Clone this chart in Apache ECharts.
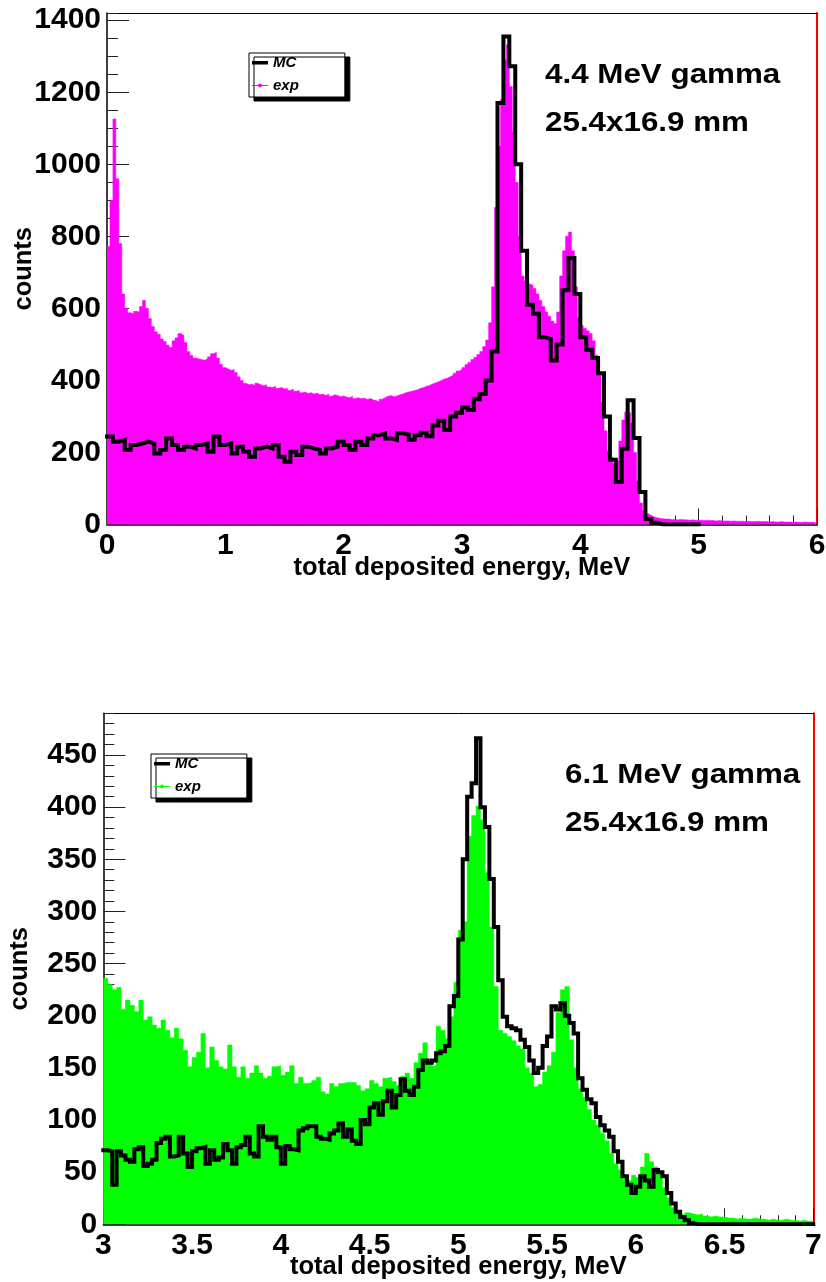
<!DOCTYPE html>
<html>
<head>
<meta charset="utf-8">
<script src="https://cdn.jsdelivr.net/npm/echarts@6/dist/echarts.min.js"></script>
<style>
  html, body { margin: 0; padding: 0; background: #fff; }
  #chart { width: 826px; height: 1282px; }
</style>
</head>
<body>
<div id="chart"></div>
<script>
const FONT = "'Liberation Sans', Arial, Helvetica, sans-serif";

// ---- 4.4 MeV gamma panel ----
// exp: 0.025 MeV bins starting at 0
const topExpStart = 0;
const topExpWidth = 0.025;
const topExp = [
  772, 900, 1126, 960, 780, 640, 600, 588, 585, 592,
  590, 605, 622, 600, 572, 550, 535, 528, 515, 508,
  498, 492, 510, 518, 530, 525, 505, 480, 470, 462,
  460, 458, 456, 460, 466, 474, 478, 462, 445, 436,
  432, 428, 430, 422, 410, 400, 392, 388, 390, 386,
  392, 388, 385, 388, 382, 380, 384, 378, 380, 376,
  378, 372, 376, 370, 372, 366, 368, 364, 366, 362,
  365, 360, 362, 358, 362, 356, 360, 358, 355, 357,
  354, 352, 356, 350, 352, 349, 351, 347, 350, 346,
  344, 340, 348, 352, 356, 358, 355, 357, 360, 362,
  366, 368, 370, 372, 374, 378, 380, 384, 386, 390,
  393, 396, 400, 404, 406, 410, 414, 420, 426, 430,
  436, 444, 450, 458, 464, 472, 480, 494, 512, 560,
  660, 880, 1050, 1180, 1290, 1332, 1216, 1090, 950, 800,
  690, 676, 668, 664, 655, 640, 622, 605, 590, 578,
  565, 558, 590, 690, 760, 800, 812, 760, 660, 575,
  552, 545, 538, 530, 510, 470, 420, 340, 260, 205,
  186, 170, 178, 232, 290, 312, 310, 282, 200, 120,
  60, 38, 30, 25, 21, 19, 17, 16, 15, 15,
  14, 14, 13, 14, 13, 13, 12, 13, 12, 12,
  12, 11, 12, 11, 11, 10, 11, 10, 10, 10,
  9, 10, 9, 9, 9, 8, 9, 8, 8, 9,
  8, 8, 8, 7, 8, 7, 7, 8, 7, 7,
  7, 6, 7, 6, 6, 7, 6, 6, 6, 5
];
// MC: 0.05 MeV bins from 0 to 5
const topMcStart = 0;
const topMcWidth = 0.05;
const topMc = [
  244, 230, 235, 207, 221, 225, 230, 225, 197, 207,
  239, 221, 207, 216, 211, 221, 225, 202, 244, 221,
  225, 197, 216, 202, 188, 211, 216, 211, 221, 188,
  174, 202, 193, 216, 211, 207, 197, 211, 216, 230,
  221, 207, 230, 221, 239, 248, 253, 239, 235, 253,
  250, 235, 248, 255, 245, 275, 288, 262, 300, 310,
  325, 318, 348, 362, 400, 480, 1170, 1355, 1272, 1000,
  760, 610, 585, 520, 515, 455, 500, 650, 740, 640,
  520, 485, 462, 420, 300, 180, 118, 210, 345, 240,
  90, 15, 5, 0, 0, 0, 0, 0, 0, 0
];

// ---- 6.1 MeV gamma panel ----
// exp and MC: 0.025 MeV bins from 3 to 7
const botStart = 3;
const botWidth = 0.025;
const botExp = [
  236, 230, 225, 227, 206, 215, 210, 204, 215, 196,
  199, 191, 188, 196, 186, 179, 188, 178, 167, 151,
  160, 165, 183, 150, 170, 157, 151, 149, 172, 151,
  141, 151, 140, 145, 152, 145, 140, 142, 151, 152,
  143, 146, 152, 135, 141, 135, 136, 138, 141, 127,
  125, 135, 132, 135, 136, 136, 136, 133, 128, 130,
  138, 135, 132, 140, 141, 137, 133, 142, 145, 140,
  155, 164, 174, 158, 152, 190, 186, 178, 199, 232,
  282, 290, 372, 392, 401, 388, 337, 285, 228, 186,
  183, 180, 176, 171, 168, 150, 145, 132, 134, 146,
  152, 165, 203, 225, 228, 177, 150, 130, 122, 110,
  100, 95, 87, 80, 68, 58, 52, 44, 42, 47,
  45, 55, 68, 60, 55, 48, 35, 25, 16, 10,
  9, 11, 10, 9, 10, 8, 7, 8, 7, 7,
  6, 6, 5, 6, 5, 5, 6, 5, 5, 4,
  5, 4, 4, 5, 4, 4, 3, 4, 3, 3
];
const botMc = [
  71, 70, 38, 70, 66, 62, 60, 72, 74, 56,
  58, 62, 78, 82, 84, 65, 66, 84, 68, 55,
  70, 73, 74, 58, 71, 62, 64, 77, 71, 58,
  74, 76, 84, 68, 65, 94, 84, 81, 84, 74,
  58, 75, 72, 71, 90, 92, 94, 94, 84, 82,
  81, 87, 90, 97, 84, 91, 80, 77, 100, 96,
  112, 116, 105, 118, 128, 112, 124, 139, 128, 124,
  132, 148, 157, 155, 157, 164, 166, 171, 209, 219,
  273, 350, 410, 423, 466, 400, 381, 331, 285, 234,
  199, 190, 188, 186, 177, 170, 157, 145, 150, 171,
  180, 209, 206, 212, 200, 193, 183, 140, 129, 120,
  116, 103, 95, 90, 84, 70, 60, 46, 38, 30,
  36, 46, 42, 36, 52, 50, 46, 30, 20, 12,
  7, 4, 1, 0, 0, 0, 0, 0, 0, 0,
  0, 0, 0, 0, 0, 0, 0, 0, 0, 0,
  0, 0, 0, 0, 0, 0, 0, 0, 0, 0
];

// bin contents -> step points at bin edges (plus closing edge)
function histPoints(start, width, counts) {
  const pts = counts.map((c, i) => [start + i * width, c]);
  pts.push([start + counts.length * width, counts[counts.length - 1]]);
  return pts;
}

const MC_ICON = 'path://M0,0L16,0L16,0.01ZM0,14L16,14L16,13.99ZM0,5.5L16,5.5L16,9L0,9Z';
const EXP_ICON = 'path://M0,0L16,0L16,0.01ZM0,14L16,14L16,13.99ZM0,6.6L16,6.6L16,7.6L0,7.6Z' +
  'M10,7.1A2,2 0 1,1 6,7.1A2,2 0 1,1 10,7.1Z';

const labelStyle = { color: '#000', fontFamily: FONT, fontWeight: 'bold', fontSize: 30 };
const titleStyle = { color: '#000', fontFamily: FONT, fontWeight: 'bold', fontSize: 25.5 };
const tickLine = { color: '#222', width: 1 };
const plain = v => String(v);

function xMain(grid, min, max, interval) {
  return {
    type: 'value', gridIndex: grid, min, max, interval,
    axisLine: { onZero: false, lineStyle: { color: '#000', width: 1.5 } },
    axisTick: { inside: true, length: 16, lineStyle: tickLine },
    minorTick: { show: true, splitNumber: 5, length: 9, lineStyle: tickLine },
    axisLabel: { ...labelStyle, margin: 6, formatter: plain },
    splitLine: { show: false },
    name: 'total deposited energy, MeV', nameLocation: 'middle', nameGap: 30,
    nameMoveOverlap: false,
    nameTextStyle: titleStyle
  };
}
function xFrame(grid, min, max) {
  return {
    type: 'value', gridIndex: grid, min, max, position: 'top',
    axisLine: { onZero: false, lineStyle: { color: '#000', width: 1 } },
    axisTick: { show: false }, axisLabel: { show: false }, splitLine: { show: false }
  };
}
function yMajor(grid, max, interval) {
  return {
    type: 'value', gridIndex: grid, min: 0, max, interval, position: 'left',
    axisLine: { show: true, onZero: false, lineStyle: { color: '#000', width: 1.5 } },
    axisTick: { show: true, inside: true, length: 22, lineStyle: tickLine },
    axisLabel: { ...labelStyle, margin: 6, showMaxLabel: false, formatter: plain },
    splitLine: { show: false },
    name: 'counts', nameLocation: 'middle', nameGap: 70,
    nameMoveOverlap: false,
    nameTextStyle: titleStyle
  };
}
function yMinor(grid, max, interval) {
  return {
    type: 'value', gridIndex: grid, min: 0, max, interval, position: 'left',
    axisLine: { show: false, onZero: false },
    axisTick: { show: true, inside: true, length: 11, lineStyle: tickLine },
    axisLabel: { show: false }, splitLine: { show: false }
  };
}
function yFrame(grid, max) {
  return {
    type: 'value', gridIndex: grid, min: 0, max, position: 'right',
    axisLine: { show: true, onZero: false, lineStyle: { color: '#ff0000', width: 2 } },
    axisTick: { show: false }, axisLabel: { show: false }, splitLine: { show: false }
  };
}

function expSeries(name, xi, yi, color, data) {
  return {
    name, type: 'line', xAxisIndex: xi, yAxisIndex: yi, step: 'end',
    data, symbol: 'none', silent: true,
    itemStyle: { color },
    lineStyle: { color, width: 0.5 },
    areaStyle: { color, opacity: 1 }
  };
}
function mcSeries(name, xi, yi, data) {
  return {
    name, type: 'line', xAxisIndex: xi, yAxisIndex: yi, step: 'end',
    data, symbol: 'none', silent: true, z: 3,
    itemStyle: { color: '#000' },
    lineStyle: { color: '#000', width: 4, join: 'miter', cap: 'square' }
  };
}

function legendBox(left, top, mcName, expName) {
  return {
    left, top, orient: 'vertical', selectedMode: false,
    data: [{ name: mcName, icon: MC_ICON }, { name: expName, icon: EXP_ICON }],
    formatter: n => n.trim(),
    itemWidth: 16, itemHeight: 14, itemGap: 8,
    padding: [2, 46, 4, 3],
    backgroundColor: '#fff', borderColor: '#000', borderWidth: 1, borderRadius: 0,
    shadowColor: '#000', shadowBlur: 0, shadowOffsetX: 5, shadowOffsetY: 4,
    itemStyle: { borderWidth: 0 },
    textStyle: { color: '#000', fontFamily: FONT, fontStyle: 'italic', fontWeight: 'bold', fontSize: 15 }
  };
}

function note(x, y, text) {
  return {
    type: 'text', x, y, scaleX: 1.12, silent: true,
    style: { text, fill: '#000', fontFamily: FONT, fontWeight: 'bold', fontSize: 28,
             textAlign: 'left', textVerticalAlign: 'middle' }
  };
}

const option = {
  animation: false,
  backgroundColor: '#fff',
  grid: [
    { left: 107, top: 13, width: 710, height: 511.5, outerBoundsMode: 'none' },
    { left: 103.3, top: 713.3, width: 710, height: 511, outerBoundsMode: 'none' }
  ],
  xAxis: [
    xMain(0, 0, 6, 1), xFrame(0, 0, 6),
    xMain(1, 3, 7, 0.5), xFrame(1, 3, 7)
  ],
  yAxis: [
    yMajor(0, 1420, 200), yMinor(0, 1420, 50), yFrame(0, 1420),
    yMajor(1, 490, 50), yMinor(1, 490, 10), yFrame(1, 490)
  ],
  legend: [
    legendBox(249, 53, 'MC', 'exp'),
    legendBox(151, 754, 'MC ', 'exp ')
  ],
  graphic: [
    note(545, 75, '4.4 MeV gamma'),
    note(545, 123, '25.4x16.9 mm'),
    note(565, 775, '6.1 MeV gamma'),
    note(565, 823, '25.4x16.9 mm')
  ],
  series: [
    expSeries('exp', 0, 0, '#ff00ff', histPoints(topExpStart, topExpWidth, topExp)),
    mcSeries('MC', 0, 0, histPoints(topMcStart, topMcWidth, topMc)),
    expSeries('exp ', 2, 3, '#00ff00', histPoints(botStart, botWidth, botExp)),
    mcSeries('MC ', 2, 3, histPoints(botStart, botWidth, botMc))
  ]
};

const chart = echarts.init(document.getElementById('chart'));
chart.setOption(option);
window.addEventListener('resize', () => chart.resize());
</script>
</body>
</html>
